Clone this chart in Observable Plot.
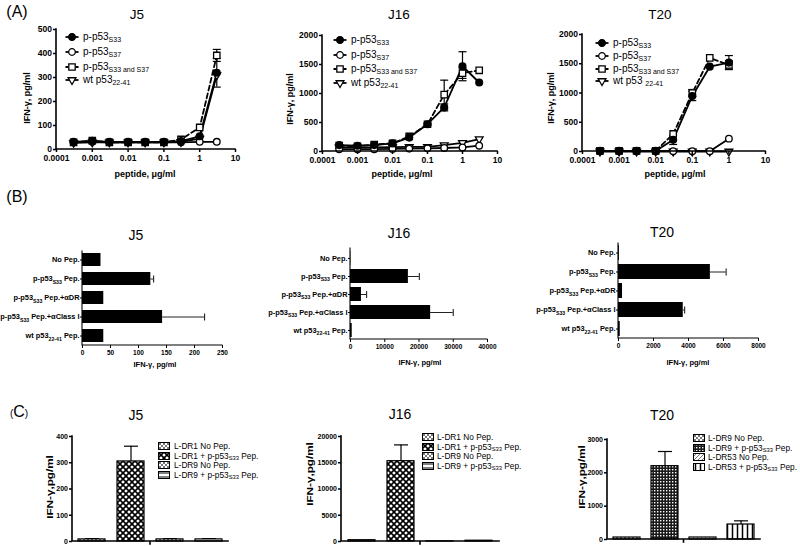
<!DOCTYPE html>
<html>
<head>
<meta charset="utf-8">
<script src="https://cdn.jsdelivr.net/npm/d3@7"></script>
<script src="https://cdn.jsdelivr.net/npm/@observablehq/plot@0.6"></script>
<style>
html,body{margin:0;padding:0;background:#fff;}
#fig{position:relative;width:800px;height:546px;overflow:hidden;font-family:"Liberation Sans",Arial,Helvetica,sans-serif;color:#000;}
.lbl{position:absolute;white-space:nowrap;line-height:1;}
.lbl sub,.leg sub{font-size:70%;vertical-align:baseline;position:relative;top:0.3em;line-height:0;}
.leg{position:absolute;white-space:nowrap;line-height:1;transform:translateY(-50%);}
</style>
</head>
<body>
<div id="fig">
<svg width="0" height="0" style="position:absolute;left:0;top:0">
<defs>
<pattern id="pXlight" patternUnits="userSpaceOnUse" width="4" height="4"><rect width="4" height="4" fill="#fff"/><path d="M0,0L4,4M4,0L0,4" stroke="#555" stroke-width="0.8"/></pattern>
<pattern id="pDiamond" patternUnits="userSpaceOnUse" width="6" height="6"><rect width="6" height="6" fill="#fff"/><path d="M0,0L6,6M6,0L0,6" stroke="#000" stroke-width="1.6"/></pattern>
<pattern id="pChecker" patternUnits="userSpaceOnUse" width="3" height="3"><rect width="3" height="3" fill="#1a1a1a"/><rect width="1.4" height="1.4" fill="#fff"/></pattern>
<pattern id="pDiag" patternUnits="userSpaceOnUse" width="4" height="4"><rect width="4" height="4" fill="#fff"/><path d="M0,4L4,0M-1,1L1,-1M3,5L5,3" stroke="#555" stroke-width="0.8"/></pattern>
<pattern id="pVlines" patternUnits="userSpaceOnUse" width="5" height="5"><rect width="5" height="5" fill="#fff"/><path d="M2.5,0V5" stroke="#000" stroke-width="1.5"/></pattern>
<pattern id="pHlines" patternUnits="userSpaceOnUse" width="4" height="4"><rect width="4" height="4" fill="#fff"/><path d="M0,2H4" stroke="#000" stroke-width="1"/></pattern>
</defs>
</svg>
</div>
<script>
const ns = "http://www.w3.org/2000/svg";
const fig = document.getElementById("fig");
const FONT = '"Liberation Sans", Arial, Helvetica, sans-serif';

// ================= DATA =================
// ---- Panel A: dose–response ----
const doses = [0.0003, 0.001, 0.003, 0.01, 0.03, 0.1, 0.3, 1, 3];
const seriesKeys = ["S33", "S37", "S33S37", "wt"];
const seriesLabels = ["p-p53_{S33}", "p-p53_{S37}", "p-p53_{S33 and S37}", "wt p53_{22-41}"];
const seriesLabelsT20 = ["p-p53_{S33}", "p-p53_{S37}", "p-p53_{S33 and S37}", "wt p53 _{22-41}"];
const xTicksA = [0.0001, 0.001, 0.01, 0.1, 1, 10];
const xTickLabelsA = ["0.0001", "0.001", "0.01", "0.1", "1", "10"];

const j5_S33     = [32, 36, 32, 32, 32, 32, 35, 55, 320];
const j5_S37     = [30, 32, 30, 30, 30, 30, 30, 32, 32];
const j5_S33S37  = [30, 37, 30, 30, 30, 30, 42, 92, 392];
const j5_wt      = [28, 30, 30, 30, 30, 30, 32, 45, 310];
const j5_S33_err    = [0, 0, 0, 0, 0, 0, 0, 0, 60];
const j5_S33S37_err = [0, 0, 0, 0, 0, 0, 0, 0, 25];
const yTicksA_j5 = [0, 100, 200, 300, 400, 500];

const j16_S33    = [110, 100, 110, 140, 240, 470, 760, 1470, 1190];
const j16_S37    = [40, 40, 40, 45, 50, 55, 60, 70, 100];
const j16_S33S37 = [100, 90, 120, 140, 260, 470, 980, 1350, 1400];
const j16_wt     = [70, 70, 70, 75, 80, 80, 110, 150, 215];
const j16_S33_err    = [0, 0, 0, 0, 0, 15, 60, 250, 0];
const j16_S33S37_err = [0, 0, 0, 0, 0, 0, 250, 90, 0];
const yTicksA_big = [0, 500, 1000, 1500, 2000];

const t20_S33    = [10, 10, 10, 10, 200, 950, 1450, 1520];
const t20_S37    = [5, 5, 5, 5, 5, 5, 5, 220];
const t20_S33S37 = [10, 10, 10, 10, 300, 1000, 1600, 1480];
const t20_wt     = [0, 0, 0, 0, 0, 0, 0, 0];
const t20_S33_err    = [0, 0, 0, 0, 80, 80, 0, 120];
const t20_S33S37_err = [0, 0, 0, 0, 0, 60, 0, 70];

// ---- Panel B: blocking ----
const bCategories = ["No Pep.", "p-p53_{S33} Pep.", "p-p53_{S33} Pep.+αDR", "p-p53_{S33} Pep.+αClass I", "wt p53_{22-41} Pep."];
const bJ5 = [33, 122, 38, 143, 38];
const bJ5_err = [0, 5, 0, 75, 0];
const bJ5_ticks = [0, 50, 100, 150, 200, 250];
const bJ16 = [100, 16900, 3200, 23400, 500];
const bJ16_err = [0, 3200, 1500, 6600, 0];
const bJ16_ticks = [0, 10000, 20000, 30000, 40000];
const bT20 = [50, 5250, 230, 3700, 100];
const bT20_err = [0, 900, 0, 80, 0];
const bT20_ticks = [0, 2000, 4000, 6000, 8000];

// ---- Panel C: HLA-DR transfectants ----
const cLabelsJ = ["L-DR1 No Pep.", "L-DR1 + p-p53_{S33} Pep.", "L-DR9 No Pep.", "L-DR9 + p-p53_{S33} Pep."];
const cLabelsT = ["L-DR9 No Pep.", "L-DR9 + p-p53_{S33} Pep.", "L-DR53 No Pep.", "L-DR53 + p-p53_{S33} Pep."];
const cPatternsJ = ["pXlight", "pDiamond", "pXlight", "pHlines"];
const cPatternsT = ["pXlight", "pChecker", "pDiag", "pVlines"];
const cJ5 = [8, 305, 8, 8];
const cJ5_err = [3, 58, 3, 3];
const cJ5_ticks = [0, 100, 200, 300, 400];
const cJ16 = [250, 15300, 30, 150];
const cJ16_err = [0, 3100, 0, 0];
const cJ16_ticks = [0, 5000, 10000, 15000, 20000];
const cT20 = [60, 2200, 60, 450];
const cT20_err = [0, 440, 0, 110];
const cT20_ticks = [0, 1000, 2000, 3000];

// ================= HELPERS =================
const plain = d => String(d);
function subHTML(s) { return s.replace(/_\{([^}]*)\}/g, "<sub>$1</sub>"); }

function addText(html, x, y, o = {}) {
  const d = document.createElement("div");
  d.className = "lbl";
  d.innerHTML = html;
  d.style.left = x + "px"; d.style.top = y + "px";
  d.style.fontSize = (o.size || 10) + "px";
  if (o.bold) d.style.fontWeight = "bold";
  let tf = "translate(-50%,-50%)";
  if (o.rotate) tf += " rotate(-90deg)";
  if (o.stretch) tf += ` scale(${o.stretch},1)`;
  d.style.transform = tf;
  fig.appendChild(d);
}

function boxDims(box, frame) {
  return {
    width: box.w, height: box.h,
    marginLeft: frame[0] - box.l, marginRight: box.l + box.w - frame[1],
    marginTop: frame[2] - box.t, marginBottom: box.t + box.h - frame[3]
  };
}
function place(svg, box) {
  svg.style.position = "absolute";
  svg.style.left = box.l + "px";
  svg.style.top = box.t + "px";
  fig.appendChild(svg);
}
const plotStyle = (fs) => ({fontFamily: FONT, fontWeight: "bold", fontSize: fs + "px", background: "transparent", overflow: "visible", color: "black"});

// axis lines along frame edges (GraphPad style)
function frameLines(o = {}) {
  return (index, scales, values, dims) => {
    const {width, height, marginLeft: ml, marginRight: mr, marginTop: mt, marginBottom: mb} = dims;
    const p = document.createElementNS(ns, "path");
    let d = `M${ml},${mt}V${height - mb}H${width - mr}`;
    if (o.midTick) d += `M${(ml + width - mr) / 2},${height - mb}v${o.midTick}`;
    p.setAttribute("d", d);
    p.setAttribute("fill", "none");
    p.setAttribute("stroke", "black");
    p.setAttribute("stroke-width", o.w || 1.5);
    p.setAttribute("stroke-linecap", "square");
    return p;
  };
}
const hCap = {draw(ctx, size) { const w = Math.sqrt(size / Math.PI); ctx.moveTo(-w, 0); ctx.lineTo(w, 0); }};
const vCap = {draw(ctx, size) { const w = Math.sqrt(size / Math.PI); ctx.moveTo(0, -w); ctx.lineTo(0, w); }};

function fixSubs(svg, fs) {
  svg.querySelectorAll("text").forEach(t => {
    const s = t.textContent;
    if (!s.includes("_{")) return;
    t.textContent = "";
    const parts = s.split(/(_\{[^}]*\})/);
    let shifted = false;
    for (const part of parts) {
      if (!part) continue;
      const ts = document.createElementNS(ns, "tspan");
      if (part.startsWith("_{")) {
        ts.textContent = part.slice(2, -1);
        ts.setAttribute("font-size", fs * 0.7);
        ts.setAttribute("dy", fs * 0.3);
        shifted = true;
      } else {
        ts.textContent = part;
        if (shifted) { ts.setAttribute("dy", -fs * 0.3); shifted = false; }
      }
      t.appendChild(ts);
    }
  });
}

// ================= PANEL A =================
const seriesStyle = {
  S33:    {symbol: "circle",   fill: "black", dash: null,   rotate: 0,   r: 3.4},
  S37:    {symbol: "circle",   fill: "white", dash: null,   rotate: 0,   r: 3.3},
  S33S37: {symbol: "square",   fill: "white", dash: "5,3",  rotate: 0,   r: 3.6},
  wt:     {symbol: "triangle", fill: "white", dash: null,   rotate: 180, r: 2.9}
};
const drawOrder = ["wt", "S33S37", "S37", "S33"];
const symbolMap = {circle: d3.symbolCircle, square: d3.symbolSquare, triangle: d3.symbolTriangle};

function seriesTable(xs, arrays, errs) {
  const rows = [];
  seriesKeys.forEach((k, si) => arrays[si].forEach((v, i) =>
    rows.push({series: k, dose: xs[i], value: v, err: errs[si] ? errs[si][i] : 0})));
  return rows;
}

function panelA(box, frame, yMax, yTicks, rows) {
  const marks = [];
  for (const k of drawOrder) {
    const st = seriesStyle[k];
    marks.push(Plot.line(rows.filter(d => d.series === k), {x: "dose", y: "value", stroke: "black", strokeWidth: 1.8, strokeDasharray: st.dash || undefined}));
  }
  const er = rows.filter(d => d.err > 0);
  marks.push(Plot.ruleX(er, {x: "dose", y1: d => d.value - d.err, y2: d => d.value + d.err, stroke: "black", strokeWidth: 1.2}));
  marks.push(Plot.dot(er, {x: "dose", y: d => d.value + d.err, symbol: hCap, r: 4, fill: "none", stroke: "black", strokeWidth: 1.2}));
  marks.push(Plot.dot(er, {x: "dose", y: d => d.value - d.err, symbol: hCap, r: 4, fill: "none", stroke: "black", strokeWidth: 1.2}));
  for (const k of drawOrder) {
    const st = seriesStyle[k];
    marks.push(Plot.dot(rows.filter(d => d.series === k), {x: "dose", y: "value", symbol: st.symbol, rotate: st.rotate, r: st.r, fill: st.fill, stroke: "black", strokeWidth: 1.3}));
  }
  marks.push(Plot.axisY({ticks: yTicks, tickFormat: plain, tickSize: 3, tickPadding: 1.5, strokeWidth: 1.5, label: null}));
  marks.push(Plot.axisX({ticks: xTicksA, tickFormat: d => xTickLabelsA[xTicksA.indexOf(d)], tickSize: 3, tickPadding: 2.8, strokeWidth: 1.5, label: null}));
  marks.push(frameLines({w: 1.6}));
  const svg = Plot.plot({
    ...boxDims(box, frame),
    x: {type: "log", domain: [xTicksA[0], xTicksA[xTicksA.length - 1]]},
    y: {domain: [0, yMax]},
    style: plotStyle(8.5),
    marks
  });
  place(svg, box);
}

function legendA(lineX, textX, rowYs, labels) {
  seriesKeys.forEach((k, i) => {
    const st = seriesStyle[k];
    const svg = document.createElementNS(ns, "svg");
    svg.setAttribute("width", 16); svg.setAttribute("height", 12);
    svg.style.cssText = `position:absolute;left:${lineX - 1.5}px;top:${rowYs[i] - 6}px;overflow:visible`;
    const ln = document.createElementNS(ns, "line");
    ln.setAttribute("x1", 1.5); ln.setAttribute("x2", 14.5); ln.setAttribute("y1", 6); ln.setAttribute("y2", 6);
    ln.setAttribute("stroke", "black"); ln.setAttribute("stroke-width", 1.8);
    if (st.dash) ln.setAttribute("stroke-dasharray", "3,2");
    svg.appendChild(ln);
    const p = document.createElementNS(ns, "path");
    p.setAttribute("d", d3.symbol(symbolMap[st.symbol], Math.PI * st.r * st.r)());
    p.setAttribute("transform", `translate(8,6) rotate(${st.rotate})`);
    p.setAttribute("fill", st.fill); p.setAttribute("stroke", "black"); p.setAttribute("stroke-width", 1.3);
    svg.appendChild(p);
    fig.appendChild(svg);
    const t = document.createElement("div");
    t.className = "leg";
    t.style.left = textX + "px"; t.style.top = rowYs[i] + "px"; t.style.fontSize = "10px";
    t.innerHTML = subHTML(labels[i]);
    fig.appendChild(t);
  });
}

panelA({l: 0, t: 22, w: 255, h: 165}, [56, 235, 29, 149], 500, yTicksA_j5,
  seriesTable(doses, [j5_S33, j5_S37, j5_S33S37, j5_wt], [j5_S33_err, null, j5_S33S37_err, null]));
panelA({l: 262, t: 22, w: 255, h: 165}, [322, 497, 35, 151], 2000, yTicksA_big,
  seriesTable(doses, [j16_S33, j16_S37, j16_S33S37, j16_wt], [j16_S33_err, null, j16_S33S37_err, null]));
panelA({l: 525, t: 22, w: 260, h: 165}, [582, 765, 34, 151], 2000, yTicksA_big,
  seriesTable(doses.slice(0, 8), [t20_S33, t20_S37, t20_S33S37, t20_wt], [t20_S33_err, null, t20_S33S37_err, null]));

// ================= PANEL B =================
function panelB(box, frame, xMax, xTicks, values, errs, padIn) {
  const rows = bCategories.map((c, i) => ({cat: c, value: values[i], err: errs[i]}));
  const er = rows.filter(d => d.err > 0);
  const svg = Plot.plot({
    ...boxDims(box, frame),
    x: {domain: [0, xMax]},
    y: {domain: bCategories, paddingInner: padIn, paddingOuter: 0.1},
    style: plotStyle(6.5),
    marks: [
      Plot.barX(rows, {x: "value", y: "cat", fill: "black"}),
      Plot.ruleY(er, {y: "cat", x1: "value", x2: d => d.value + d.err, stroke: "#222", strokeWidth: 1}),
      Plot.dot(er, {y: "cat", x: d => d.value + d.err, symbol: vCap, r: 3.5, fill: "none", stroke: "#222", strokeWidth: 1.1}),
      Plot.axisY({tickSize: 2, tickPadding: 1, strokeWidth: 1, fontSize: 7.4, label: null}),
      Plot.axisX({ticks: xTicks, tickFormat: plain, tickSize: 3, tickPadding: 2, strokeWidth: 1, label: null}),
      frameLines({w: 1.1})
    ]
  });
  fixSubs(svg, 7.4);
  place(svg, box);
}
panelB({l: 0, t: 240, w: 240, h: 120}, [82, 222, 251, 345], 250, bJ5_ticks, bJ5, bJ5_err, 0.3);
panelB({l: 262, t: 240, w: 245, h: 115}, [350, 487, 248, 339], 40000, bJ16_ticks, bJ16, bJ16_err, 0.24);
panelB({l: 525, t: 235, w: 255, h: 120}, [618, 758, 243, 338], 8000, bT20_ticks, bT20, bT20_err, 0.22);

// ================= PANEL C =================
function panelC(box, frame, yMax, yTicks, labels, patterns, values, errs) {
  const rows = labels.map((c, i) => ({cat: c, value: values[i], err: errs[i], pat: `url(#${patterns[i]})`}));
  const er = rows.filter(d => d.err > 0);
  const svg = Plot.plot({
    ...boxDims(box, frame),
    x: {domain: labels, paddingInner: 0.3, paddingOuter: 0.15, axis: null},
    y: {domain: [0, yMax]},
    style: plotStyle(7),
    marks: [
      Plot.ruleX(er, {x: "cat", y1: "value", y2: d => d.value + d.err, stroke: "black", strokeWidth: 1.2}),
      Plot.dot(er, {x: "cat", y: d => d.value + d.err, symbol: hCap, r: 7, fill: "none", stroke: "black", strokeWidth: 1.2}),
      Plot.barY(rows, {x: "cat", y: "value", fill: "pat", stroke: "black", strokeWidth: 1.2}),
      Plot.axisY({ticks: yTicks, tickFormat: plain, tickSize: 3, tickPadding: 1.5, strokeWidth: 1.5, label: null}),
      frameLines({w: 1.6, midTick: 3})
    ]
  });
  place(svg, box);
}
panelC({l: 0, t: 428, w: 240, h: 118}, [72, 228, 436, 541], 400, cJ5_ticks, cLabelsJ, cPatternsJ, cJ5, cJ5_err);
panelC({l: 262, t: 428, w: 250, h: 118}, [341, 499, 436, 541], 20000, cJ16_ticks, cLabelsJ, cPatternsJ, cJ16, cJ16_err);
panelC({l: 525, t: 430, w: 250, h: 116}, [607, 760, 439, 539], 3000, cT20_ticks, cLabelsT, cPatternsT, cT20, cT20_err);

function legendC(swX, textX, rowYs, labels, patterns) {
  labels.forEach((lab, i) => {
    const svg = document.createElementNS(ns, "svg");
    svg.setAttribute("width", 12); svg.setAttribute("height", 8);
    svg.style.cssText = `position:absolute;left:${swX}px;top:${rowYs[i] - 4}px;overflow:visible`;
    const r = document.createElementNS(ns, "rect");
    r.setAttribute("x", 0.5); r.setAttribute("y", 0.5); r.setAttribute("width", 11); r.setAttribute("height", 7);
    r.setAttribute("fill", `url(#${patterns[i]})`); r.setAttribute("stroke", "black"); r.setAttribute("stroke-width", 1);
    svg.appendChild(r);
    fig.appendChild(svg);
    const t = document.createElement("div");
    t.className = "leg";
    t.style.left = textX + "px"; t.style.top = rowYs[i] + "px"; t.style.fontSize = "8.3px";
    t.innerHTML = subHTML(lab);
    fig.appendChild(t);
  });
}

// ================= TEXT / LEGENDS =================
// Panel letters
addText("(A)", 17, 12, {size: 16});
addText("(B)", 17, 197, {size: 16});
addText('<span style="font-size:10px">(</span>C<span style="font-size:10px">)</span>', 19, 412, {size: 16});

// Panel A
addText("J5", 137, 15, {size: 13.5});
addText("J16", 399, 15, {size: 13.5});
addText("T20", 660, 15, {size: 13.5});
addText("IFN-γ, pg/ml", 27, 98, {size: 9, bold: true, rotate: true});
addText("IFN-γ, pg/ml", 290, 99, {size: 9, bold: true, rotate: true});
addText("IFN-γ, pg/ml", 551, 98, {size: 9, bold: true, rotate: true});
addText("peptide, μg/ml", 145, 174, {size: 9, bold: true});
addText("peptide, μg/ml", 402, 174, {size: 9, bold: true});
addText("peptide, μg/ml", 675, 174, {size: 9, bold: true});
legendA(65, 83, [37, 52, 67, 80], seriesLabels);
legendA(333, 351, [40, 55, 69, 83], seriesLabels);
legendA(595, 613, [43, 56, 69, 81], seriesLabelsT20);

// Panel B
addText("J5", 136, 235, {size: 14});
addText("J16", 399, 233, {size: 14});
addText("T20", 662, 232, {size: 14});
addText("IFN-γ, pg/ml", 155, 365, {size: 7.5, bold: true});
addText("IFN-γ, pg/ml", 420, 363, {size: 7.5, bold: true});
addText("IFN-γ, pg/ml", 688, 363, {size: 7.5, bold: true});

// Panel C
addText("J5", 136, 415, {size: 14});
addText("J16", 400, 414, {size: 14});
addText("T20", 662, 415, {size: 14});
addText("IFN-γ,pg/ml", 50, 487, {size: 9, bold: true, rotate: true, stretch: 1.3});
addText("IFN-γ,pg/ml", 310, 474, {size: 9, bold: true, rotate: true, stretch: 1.3});
addText("IFN-γ,pg/ml", 582, 477, {size: 9, bold: true, rotate: true, stretch: 1.3});
legendC(158, 174, [446, 455.5, 465, 474.5], cLabelsJ, cPatternsJ);
legendC(422, 437, [437, 446.5, 456, 465.5], cLabelsJ, cPatternsJ);
legendC(693, 708, [438, 447.5, 457, 466.5], cLabelsT, cPatternsT);
</script>
</body>
</html>
